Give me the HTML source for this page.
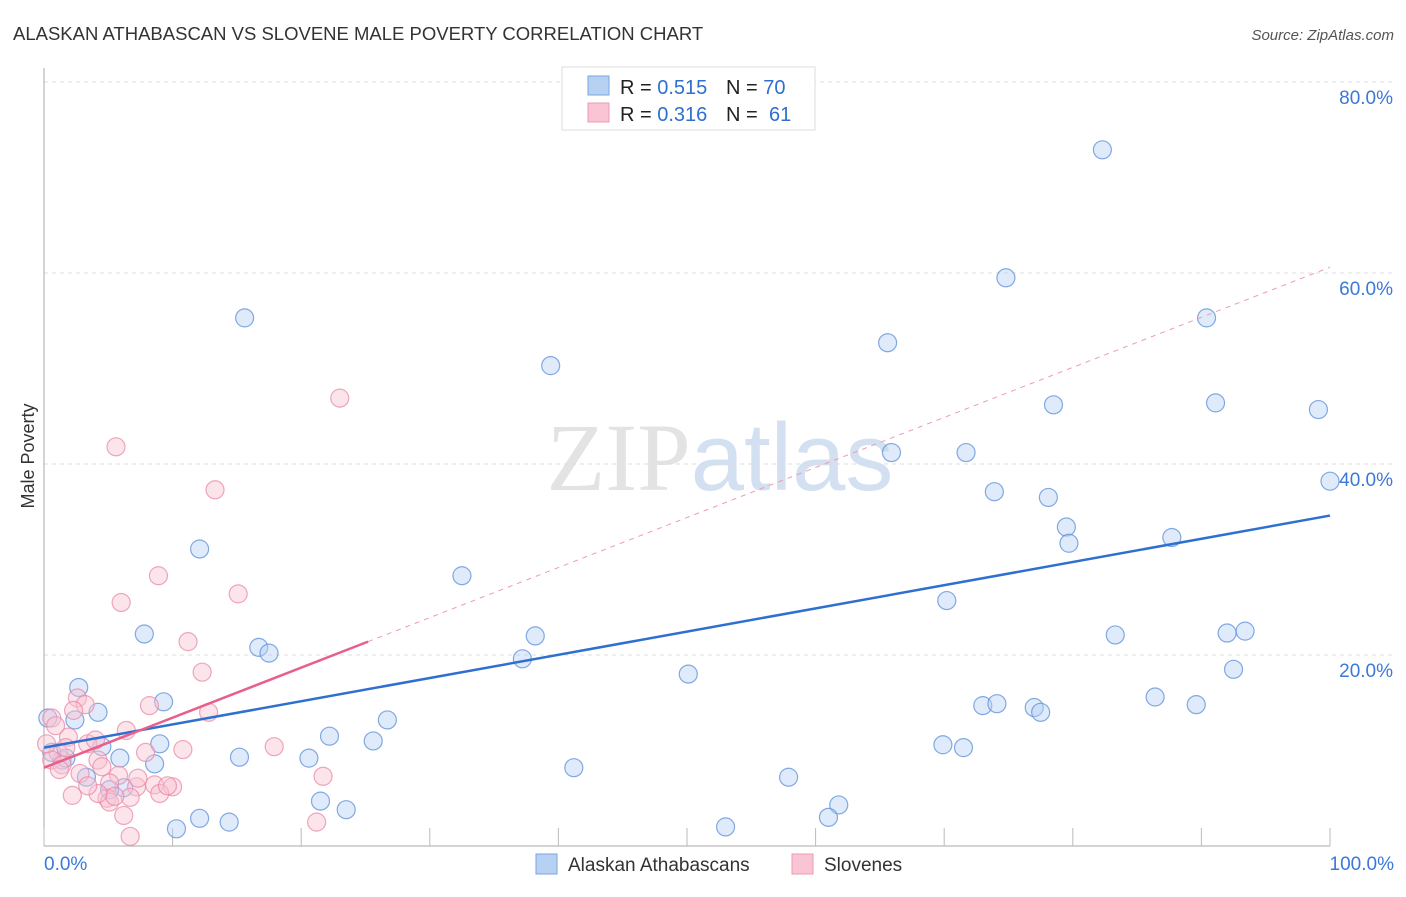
<!DOCTYPE html>
<html><head><meta charset="utf-8"><style>
body{margin:0;background:#fff;font-family:"Liberation Sans",sans-serif}
svg text{font-family:"Liberation Sans",sans-serif}
</style></head><body>
<svg id="chart" width="1406" height="892" xmlns="http://www.w3.org/2000/svg">
<text x="13" y="40" font-size="18.5" fill="#333">ALASKAN ATHABASCAN VS SLOVENE MALE POVERTY CORRELATION CHART</text>
<text x="1394" y="40" font-size="15" fill="#555" font-style="italic" text-anchor="end">Source: ZipAtlas.com</text>
<text x="720" y="490" font-size="96" text-anchor="middle" fill="#ddd" opacity="0.8"><tspan font-family="Liberation Serif">ZIP</tspan><tspan fill="#c9d9ef">atlas</tspan></text>
<text transform="translate(34,456) rotate(-90)" font-size="18" fill="#333" text-anchor="middle">Male Poverty</text>
<g id="grid"></g>
<g id="marks"></g>
<g>
<rect x="562" y="67" width="253" height="63" fill="#fff" stroke="#ddd"/>
<rect x="588" y="76" width="21" height="19" fill="#b7d1f3" stroke="#7aa6e0"/>
<rect x="588" y="103" width="21" height="19" fill="#f9c4d3" stroke="#ee9ab3"/>
<text x="620" y="94" font-size="20" fill="#222">R = <tspan fill="#2f6fd0">0.515</tspan><tspan x="726">N = </tspan><tspan fill="#2f6fd0">70</tspan></text>
<text x="620" y="121" font-size="20" fill="#222">R = <tspan fill="#2f6fd0">0.316</tspan><tspan x="726">N = </tspan><tspan fill="#2f6fd0" x="769">61</tspan></text>
</g>
<g>
<rect x="536" y="854" width="21" height="20" fill="#b7d1f3" stroke="#7aa6e0"/>
<text x="568" y="871" font-size="19" fill="#333">Alaskan Athabascans</text>
<rect x="792" y="854" width="21" height="20" fill="#f9c4d3" stroke="#ee9ab3"/>
<text x="824" y="871" font-size="19" fill="#333">Slovenes</text>
</g>
</svg>
<script>
const yTicks=[20,40,60,80];
const yTickLabels=["20.0%","40.0%","60.0%","80.0%"];
const xTicks=[0,10,20,30,40,50,60,70,80,90,100];
const blueX=[82.3,74.8,90.4,65.6,15.6,39.4,78.5,91.1,99.1,100,65.9,71.7,73.9,78.1,79.5,79.7,87.7,12.1,32.5,70.2,7.8,38.2,83.3,92.0,93.4,16.7,17.5,37.2,92.5,50.1,2.7,9.3,4.2,86.4,89.6,73.0,74.1,77.0,77.5,2.4,0.3,26.7,22.2,25.6,9.0,4.5,69.9,71.5,1.4,5.9,15.2,20.6,8.6,41.2,3.3,57.9,6.2,21.5,23.5,61.8,61.0,12.1,14.4,10.3,53.0,1.7,0.6,5.1];
const blueY=[72.9,59.5,55.3,52.7,55.3,50.3,46.2,46.4,45.7,38.2,41.2,41.2,37.1,36.5,33.4,31.7,32.3,31.1,28.3,25.7,22.2,22.0,22.1,22.3,22.5,20.8,20.2,19.6,18.5,18.0,16.6,15.1,14.0,15.6,14.8,14.7,14.9,14.5,14.0,13.2,13.4,13.2,11.5,11.0,10.7,10.4,10.6,10.3,9.0,9.2,9.3,9.2,8.6,8.2,7.2,7.2,6.1,4.7,3.8,4.3,3.0,2.9,2.5,1.8,2.0,9.2,9.8,5.9];
const pinkX=[23.0,5.6,13.3,8.9,6.0,15.1,11.2,12.3,12.8,2.6,3.2,8.2,2.3,0.6,17.9,10.8,7.9,1.9,3.4,4.0,1.1,0.6,1.4,4.2,6.4,21.7,5.8,2.8,1.2,5.1,7.2,8.6,10.0,9.0,6.7,4.9,5.1,5.5,2.2,4.2,7.3,6.2,21.2,6.7,1.7,0.2,0.9,4.5,3.4,9.6];
const pinkY=[46.9,41.8,37.3,28.3,25.5,26.4,21.4,18.2,14.0,15.5,14.8,14.7,14.2,13.4,10.4,10.1,9.8,11.4,10.7,11.1,9.8,9.0,8.5,9.0,12.1,7.3,7.4,7.6,8.0,6.6,6.2,6.4,6.2,5.5,5.1,5.0,4.6,5.2,5.3,5.5,7.1,3.2,2.5,1.0,10.3,10.7,12.6,8.3,6.3,6.3];
const blueTrend=[[0,10.3],[100,34.6]];
const pinkTrend=[[0,8.2],[25.2,21.4]];
const pinkTrendExt=[[25.2,21.4],[100,60.6]];
const NS="http://www.w3.org/2000/svg";
const sx=v=>44+v*12.86, sy=v=>846-v*9.55;
function mk(t,a,p){const e=document.createElementNS(NS,t);for(const k in a)e.setAttribute(k,a[k]);p.appendChild(e);return e;}
const grid=document.getElementById('grid'),marks=document.getElementById('marks');
yTicks.forEach((v,i)=>{
 const l=mk('line',{x1:44,x2:1394,y1:sy(v),y2:sy(v),stroke:'#ddd','stroke-dasharray':'4,4'},grid);
 
 
 const t=mk('text',{x:1393,y:sy(v)+22,'font-size':19,fill:'#3b78d8','text-anchor':'end'},grid);
 t.textContent=yTickLabels[i];
 
 
});
mk('line',{x1:44,x2:44,y1:68,y2:846,stroke:'#aaa'},grid);
mk('line',{x1:44,x2:1330,y1:846,y2:846,stroke:'#aaa'},grid);
xTicks.forEach(v=>{const l=mk('line',{x1:sx(v),x2:sx(v),y1:828,y2:846,stroke:'#bbb'},grid);
 
 });
[["0.0%",44,'start'],["100.0%",1394,'end']].forEach(([s,x,a])=>{const t=mk('text',{x:x,y:870,'font-size':19,fill:'#3b78d8','text-anchor':a},grid);t.textContent=s;
 
 });
function pts(X,Y,fill,stroke,name){X.forEach((x,i)=>{const c=mk('circle',{cx:sx(x),cy:sy(Y[i]),r:9,fill:fill,'fill-opacity':0.45,stroke:stroke,'stroke-width':1.2,'stroke-opacity':0.75},marks);
 
 });}
pts(blueX,blueY,'#b7d1f3','#5b8fd8','athabascan-point');
pts(pinkX,pinkY,'#f9c4d3','#ea8aa8','slovene-point');
function ln(p,c,w,d,name){const l=mk('line',{x1:sx(p[0][0]),y1:sy(p[0][1]),x2:sx(p[1][0]),y2:sy(p[1][1]),stroke:c,'stroke-width':w},marks);if(d)l.setAttribute('stroke-dasharray',d);
 
 }
ln(pinkTrendExt,'#ee9ab3',1,'5,5','slovene-trend-extension');
ln(blueTrend,'#2f6fd0',2.5,null,'athabascan-trend-line');
ln(pinkTrend,'#e8608a',2.5,null,'slovene-trend-line');
</script>
</body></html>
